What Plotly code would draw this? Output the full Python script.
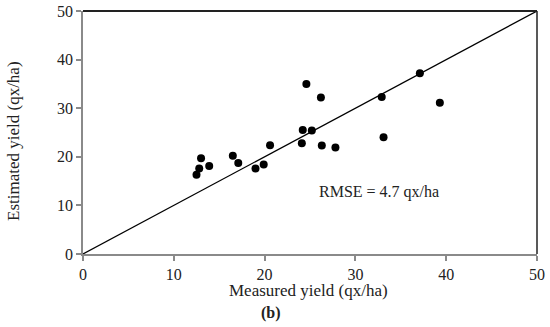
import plotly.graph_objects as go

measured = [12.5, 12.8, 13.0, 13.9, 16.5, 17.1, 19.0, 19.9, 20.6, 24.1, 24.2, 24.6,
            25.2, 26.2, 26.3, 27.8, 32.9, 33.1, 37.1, 39.3]
estimated = [16.3, 17.6, 19.7, 18.1, 20.2, 18.7, 17.6, 18.4, 22.4, 22.8, 25.5, 35.0,
             25.4, 32.2, 22.3, 21.9, 32.3, 24.0, 37.2, 31.1]
line_x = [0, 50]
line_y = [0, 50]
ticks = [0, 10, 20, 30, 40, 50]

FONT = "Liberation Serif"
W, H = 550, 327
L, R, T, B = 83, 13, 11, 73
PW, PH = W - L - R, H - T - B

fig = go.Figure()
fig.add_trace(go.Scatter(x=line_x, y=line_y, mode="lines",
                         line=dict(color="black", width=1.2), showlegend=False))
fig.add_trace(go.Scatter(x=measured, y=estimated, mode="markers",
                         marker=dict(color="black", size=8), showlegend=False))

axis_common = dict(range=[0, 50], tickvals=ticks, showgrid=False, zeroline=False,
                   showline=True, linecolor="#8a8a8a", linewidth=1.5,
                   ticks="outside", ticklen=5, tickcolor="#8a8a8a", tickwidth=1.5,
                   automargin=False,
                   tickfont=dict(family=FONT, size=16, color="#222"))
fig.update_xaxes(**axis_common)
fig.update_yaxes(**axis_common)

fig.update_layout(
    width=W, height=H,
    margin=dict(l=L, r=R, t=T, b=B, autoexpand=False),
    plot_bgcolor="white", paper_bgcolor="white",
    shapes=[
        dict(type="line", xref="paper", yref="paper", x0=0, x1=1, y0=1, y1=1,
             line=dict(color="#222", width=2)),
        dict(type="line", xref="paper", yref="paper", x0=1, x1=1, y0=0, y1=1,
             line=dict(color="#222", width=1.5)),
    ],
    annotations=[
        dict(text="RMSE = 4.7 qx/ha", x=32.6, y=12.8, xref="x", yref="y",
             showarrow=False, font=dict(family=FONT, size=16, color="#222")),
        dict(text="Measured yield (qx/ha)", x=(308 - L) / PW, y=-(290 - T - PH) / PH,
             xref="paper", yref="paper",
             xanchor="center", yanchor="middle", showarrow=False,
             font=dict(family=FONT, size=17, color="#222")),
        dict(text="<b>(b)</b>", x=(271 - L) / PW, y=-(313 - T - PH) / PH,
             xref="paper", yref="paper",
             xanchor="center", yanchor="middle", showarrow=False,
             font=dict(family=FONT, size=16, color="#222")),
        dict(text="Estimated yield (qx/ha)", x=-(L - 13) / PW, y=(254 - 141) / PH,
             xref="paper", yref="paper", xanchor="center", yanchor="middle",
             textangle=-90, showarrow=False,
             font=dict(family=FONT, size=17, color="#222")),
    ],
)

fig.write_html("out.html", config={"displayModeBar": False},
               post_script="document.body.style.margin='0';")
